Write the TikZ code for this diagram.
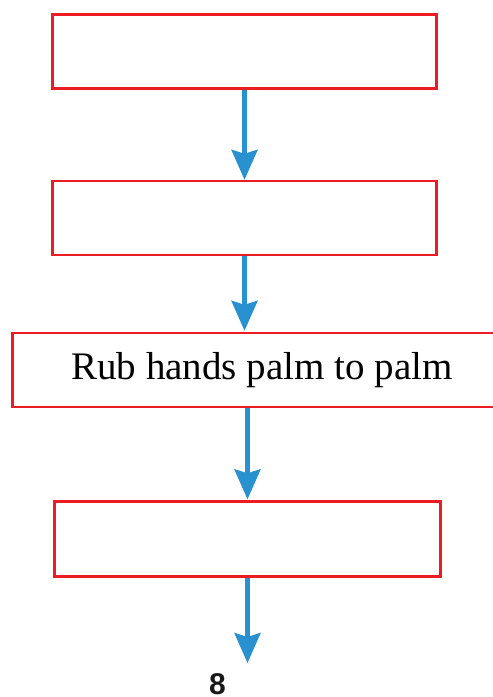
\documentclass[tikz,border=0pt]{standalone}
\usepackage{fontspec}
\setmainfont{Liberation Serif}
\newfontfamily\numfont{Liberation Sans}
\usepackage{xcolor}
\usetikzlibrary{positioning,arrows.meta}
\definecolor{boxred}{RGB}{237,28,36}
\definecolor{flowblue}{RGB}{42,145,208}

\begin{document}
\begin{tikzpicture}[
  x=1pt, y=-1pt,
  >={Stealth[length=30pt, width=26pt, inset=4pt]},
  stepbox/.style={draw=boxred, line width=2.4pt, minimum width=384pt,
                  minimum height=74pt, inner sep=0pt, font=\fontsize{39}{44}\selectfont},
  flow/.style={->, draw=flowblue, line width=4.2pt, fill=flowblue}
]
\useasboundingbox (0,0) rectangle (493,697);

% --- Steps ---
\node[stepbox] (wet) at (244.5,51.5) {};
\node[stepbox] (soap) at (244.5,218) {};
\node[stepbox, minimum width=499pt, minimum height=74pt] (rub) at (262,370)
  {Rub hands palm to palm};
\node[stepbox, minimum width=386pt, minimum height=75pt] (back) at (247.5,539) {};

% --- Flow arrows ---
\coordinate (next) at (247.5,663);
\draw[flow] (wet.south) -- (soap.north);
\draw[flow] (soap.south) -- ([yshift=1pt]soap.south |- rub.north);
\draw[flow] (back.north |- rub.south) -- ([yshift=1pt]back.north);
\draw[flow] (back.south) -- (next);

% --- Page number ---
\node[inner sep=0pt, font=\numfont\bfseries\fontsize{30}{36}\selectfont, text=black!90]
  (page) at (217.5,684) {8};

\end{tikzpicture}
\end{document}
